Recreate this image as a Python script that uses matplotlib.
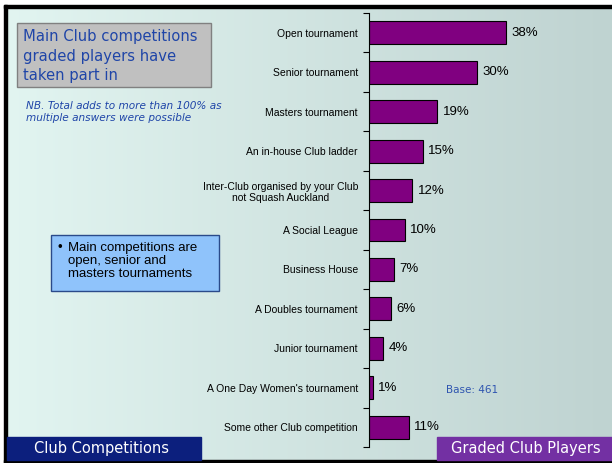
import numpy as np
import matplotlib
matplotlib.use('Agg')
import matplotlib.pyplot as plt
from matplotlib.patches import Rectangle
from matplotlib.colors import LinearSegmentedColormap

categories = ["Open tournament", "Senior tournament", "Masters tournament",
              "An in-house Club ladder",
              "Inter-Club organised by your Club\nnot Squash Auckland",
              "A Social League", "Business House", "A Doubles tournament",
              "Junior tournament", "A One Day Women's tournament",
              "Some other Club competition"]
values = [38, 30, 19, 15, 12, 10, 7, 6, 4, 1, 11]
value_labels = [f"{v}%" for v in values]

W, H = 612, 463
fig = plt.figure(figsize=(W / 100, H / 100), dpi=100, facecolor="white")

# background gradient, pixel coordinates
bg = fig.add_axes([0, 0, 1, 1], zorder=-10)
grad = np.linspace(0, 1, 256).reshape(1, -1)
cmap = LinearSegmentedColormap.from_list("bg", ["#e2f5f1", "#bfd3d1"])
bg.imshow(grad, aspect="auto", cmap=cmap, extent=[0, W, H, 0])
bg.set_xlim(0, W)
bg.set_ylim(H, 0)
bg.axis("off")

# white margin + black frame (top, left, bottom)
bg.add_patch(Rectangle((0, 0), W, 5, color="white"))
bg.add_patch(Rectangle((0, 0), 4, H, color="white"))
bg.add_patch(Rectangle((4, 5), W - 4, 3, color="black"))
bg.add_patch(Rectangle((4, 5), 3, H - 5, color="black"))
bg.add_patch(Rectangle((4, 460), W - 4, 3, color="black"))

# footer bands
bg.add_patch(Rectangle((7, 437), 194, 23, color="#0c1f7d"))
bg.add_patch(Rectangle((437, 437), W - 437, 23, color="#7330a3"))
bg.text(102, 449, "Club Competitions", color="white", fontsize=10.5,
        ha="center", va="center", family="DejaVu Sans")
bg.text(526, 449, "Graded Club Players", color="white", fontsize=10.5,
        ha="center", va="center", family="DejaVu Sans")

# title box
bg.add_patch(Rectangle((17, 23), 194, 64, facecolor="#c0c0c0",
                       edgecolor="#808080", lw=1))
bg.text(23, 56, "Main Club competitions\ngraded players have\ntaken part in",
        color="#1f45a8", fontsize=10.6, ha="left", va="center",
        linespacing=1.38, family="DejaVu Sans")
bg.text(26, 112, "NB. Total adds to more than 100% as\nmultiple answers were possible",
        color="#1f45a8", fontsize=7.6, style="italic", ha="left", va="center",
        linespacing=1.15, family="DejaVu Sans")

# bullet box
bg.add_patch(Rectangle((51, 235), 168, 56, facecolor="#8fc3fb",
                       edgecolor="#2a4a8a", lw=1))
bg.text(57, 248, "\u2022", color="black", fontsize=9.5, ha="left",
        va="center", family="Liberation Sans")
bg.text(68, 261, "Main competitions are\nopen, senior and\nmasters tournaments",
        color="black", fontsize=9.5, ha="left", va="center",
        linespacing=1.12, family="Liberation Sans")

bg.text(446, 390, "Base: 461", color="#2f55b0", fontsize=7.5,
        ha="left", va="center", family="DejaVu Sans")

# bar chart
ax = fig.add_axes([369 / W, (H - 447) / H, 216 / W, 434 / H])
ax.patch.set_alpha(0)
y = np.arange(len(categories))
ax.barh(y, values, height=0.58, color="#800080", edgecolor="black", lw=0.8)
for yi, v, lab in zip(y, values, value_labels):
    ax.text(v + 1.5, yi, lab, va="center", ha="left", fontsize=9.5,
            family="Liberation Sans")
ax.set_ylim(len(categories) - 0.5, -0.5)
ax.set_xlim(0, 60)
ax.set_yticks(y)
ax.set_yticklabels(categories, fontsize=7.5, family="Liberation Sans")
ax.tick_params(axis="y", which="major", length=0, pad=8)
for t in ax.get_yticklabels():
    t.set_multialignment("center")
ax.set_yticks(np.arange(-0.5, len(categories), 1), minor=True)
ax.tick_params(axis="y", which="minor", length=4, width=0.8, direction="out")
ax.set_xticks([])
for s in ["top", "right", "bottom"]:
    ax.spines[s].set_visible(False)
ax.spines["left"].set_linewidth(0.8)

fig.savefig("out.png", dpi=100)
